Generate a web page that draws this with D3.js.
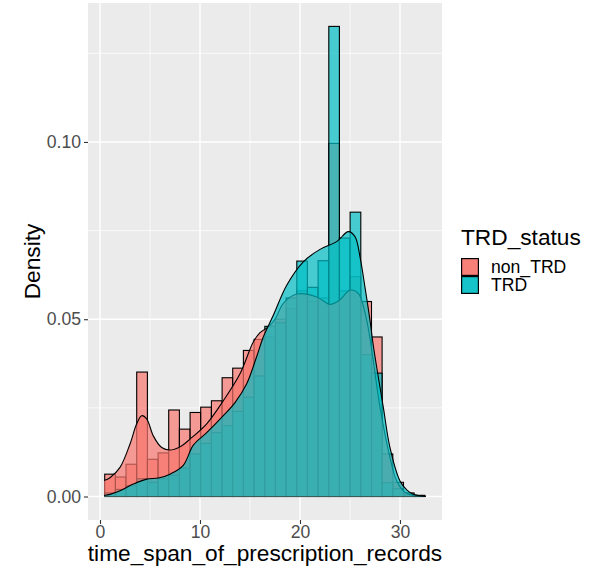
<!DOCTYPE html>
<html>
<head>
<meta charset="utf-8">
<script src="https://cdn.jsdelivr.net/npm/d3@7"></script>
<style>
  body { margin: 0; background: #ffffff; }
  text { font-family: "Liberation Sans", Arial, sans-serif; }
</style>
</head>
<body>
<div class="chart-wrapper"></div>
<script>

const groups = ["non_TRD", "TRD"];
const colours = ["#F8766D", "#00BFC4"];

// histogram bin edges (31 edges -> 30 bins)
const binEdges = [0.47, 1.54, 2.60, 3.67, 4.74, 5.81, 6.87, 7.94, 9.01, 10.07,
  11.14, 12.21, 13.27, 14.34, 15.41, 16.48, 17.54, 18.61, 19.68, 20.74,
  21.81, 22.88, 23.94, 25.01, 26.08, 27.15, 28.21, 29.28, 30.35, 31.41, 32.48];

const histNonTRD = [0.0063, 0.0055, 0.0091, 0.0351, 0.0105, 0.0123, 0.0244, 0.0190, 0.0237, 0.0252,
  0.0270, 0.0335, 0.0362, 0.0412, 0.0443, 0.0450, 0.0500, 0.0530, 0.0580, 0.0550,
  0.0560, 0.0996, 0.0580, 0.0620, 0.0550, 0.0450, 0.0120, 0.0040, 0.0010, 0.0003];

const histTRD = [0.0010, 0.0020, 0.0030, 0.0050, 0.0040, 0.0050, 0.0060, 0.0080, 0.0120, 0.0150,
  0.0180, 0.0200, 0.0240, 0.0280, 0.0340, 0.0480, 0.0490, 0.0560, 0.0664, 0.0590,
  0.0665, 0.1326, 0.0729, 0.0802, 0.0400, 0.0348, 0.0039, 0.0022, 0.0005, 0.0003];

const densNonTRD_x = [0.41, 1, 2, 3, 3.67, 4.17, 4.67, 5.33, 6.17, 7, 8, 9, 10.67, 12.33, 14, 15.33, 16, 16.8,
  17.5, 18.33, 19.67, 21.67, 23, 24, 25, 25.83, 26.67, 28, 29, 29.67, 30.5, 31.3, 32.2];
const densNonTRD_y = [0.0045, 0.0053, 0.0082, 0.0148, 0.0205, 0.0228, 0.0219, 0.0171, 0.0138, 0.0131, 0.0140, 0.0162,
  0.0205, 0.0270, 0.0346, 0.0436, 0.0462, 0.0478, 0.0500, 0.0545, 0.0571, 0.0563, 0.0542, 0.0555, 0.0582,
  0.0573, 0.0497, 0.0252, 0.0110, 0.0044, 0.0012, 0.0003, 0.0001];

const densTRD_x = [0.41, 1, 2, 3.33, 4.67, 5.83, 7, 8.33, 9.33, 10.67, 12.33, 13.5, 14.67, 15.67, 16.33, 17.33,
  18.67, 20.33, 22, 23.67, 24.83, 25.5, 26, 26.5, 27, 27.33, 28.33, 29, 30, 30.7, 31.33, 32, 32.59];
const densTRD_y = [0.0003, 0.0006, 0.0016, 0.0035, 0.0049, 0.0052, 0.0063, 0.0088, 0.0145, 0.0180, 0.0228, 0.0265,
  0.0318, 0.0395, 0.0450, 0.0511, 0.0596, 0.0662, 0.0697, 0.0719, 0.0747, 0.0733, 0.0676, 0.0590, 0.0497,
  0.0426, 0.0252, 0.0138, 0.0044, 0.0018, 0.0006, 0.0002, 0.0000];

const xTicks = [0, 10, 20, 30];
const xMinor = [5, 15, 25];
const yTicks = [0, 0.05, 0.10];
const yMinor = [0.025, 0.075, 0.125];

let width = 590;
let height = 571;

let panel = {left: 88, right: 442, top: 3, bottom: 520};

const svg = d3.select('.chart-wrapper')
.append('svg')
.attr("width", width)
.attr("height", height);

let x = d3.scaleLinear()
.domain([-1.2, 34.2])
.range([panel.left, panel.right]);

let y = d3.scaleLinear()
.domain([-0.00663, 0.1392])
.range([panel.bottom, panel.top]);

// panel background + grid
svg.append("rect")
.attr("x", panel.left)
.attr("y", panel.top)
.attr("width", panel.right - panel.left)
.attr("height", panel.bottom - panel.top)
.attr("fill", "#EBEBEB");

svg.append("g")
.selectAll("line.vminor")
.data(xMinor)
.enter()
.append("line")
.attr("x1", d => x(d)).attr("x2", d => x(d))
.attr("y1", panel.top).attr("y2", panel.bottom)
.attr("stroke", "#ffffff").attr("stroke-width", 0.7);

svg.append("g")
.selectAll("line.hminor")
.data(yMinor)
.enter()
.append("line")
.attr("x1", panel.left).attr("x2", panel.right)
.attr("y1", d => y(d)).attr("y2", d => y(d))
.attr("stroke", "#ffffff").attr("stroke-width", 0.7);

svg.append("g")
.selectAll("line.vmajor")
.data(xTicks)
.enter()
.append("line")
.attr("x1", d => x(d)).attr("x2", d => x(d))
.attr("y1", panel.top).attr("y2", panel.bottom)
.attr("stroke", "#ffffff").attr("stroke-width", 1.4);

svg.append("g")
.selectAll("line.hmajor")
.data(yTicks)
.enter()
.append("line")
.attr("x1", panel.left).attr("x2", panel.right)
.attr("y1", d => y(d)).attr("y2", d => y(d))
.attr("stroke", "#ffffff").attr("stroke-width", 1.4);

// histogram bars, non_TRD first then TRD on top
let barData = [];
[histNonTRD, histTRD].forEach((vals, g) => {
  vals.forEach((v, i) => {
    barData.push({group: g, x0: binEdges[i], x1: binEdges[i + 1], value: v});
  });
});

svg.append("g")
.selectAll("rect")
.data(barData)
.enter()
.append("rect")
.attr("x", d => x(d.x0))
.attr("y", d => y(d.value))
.attr("width", d => x(d.x1) - x(d.x0))
.attr("height", d => y(0) - y(d.value))
.attr("fill", d => colours[d.group])
.attr("fill-opacity", 0.7)
.attr("stroke", "#000000")
.attr("stroke-width", 1.1);

// density curves
let densities = [
  d3.zip(densNonTRD_x, densNonTRD_y),
  d3.zip(densTRD_x, densTRD_y)
];

let area = d3.area()
.x(d => x(d[0]))
.y0(y(0))
.y1(d => y(d[1]))
.curve(d3.curveCatmullRom.alpha(0.5));

let line = d3.line()
.x(d => x(d[0]))
.y(d => y(d[1]))
.curve(d3.curveCatmullRom.alpha(0.5));

densities.forEach((pts, g) => {
  let dg = svg.append("g");
  dg.append("path")
  .datum(pts)
  .attr("d", area)
  .attr("fill", colours[g])
  .attr("fill-opacity", 0.7);
  dg.append("path")
  .datum(pts)
  .attr("d", line)
  .attr("fill", "none")
  .attr("stroke", "#000000")
  .attr("stroke-width", 1.1);
});

// axes
let xAxis = svg.append("g")
.attr("transform", `translate(0,${panel.bottom})`)
.call(d3.axisBottom(x).tickValues(xTicks).tickSize(4).tickPadding(2).tickFormat(d3.format("d")));

let yAxis = svg.append("g")
.attr("transform", `translate(${panel.left},0)`)
.call(d3.axisLeft(y).tickValues(yTicks).tickSize(4).tickPadding(3).tickFormat(d3.format(".2f")));

[xAxis, yAxis].forEach(a => {
  a.select(".domain").remove();
  a.selectAll(".tick line").attr("stroke", "#333333").attr("stroke-width", 1.1);
  a.selectAll(".tick text")
  .attr("fill", "#4D4D4D")
  .style("font-size", "17.6px")
  .style("font-family", "'Liberation Sans', Arial, sans-serif");
});

svg.append("text")
.attr("x", (panel.left + panel.right) / 2)
.attr("y", 561)
.attr("text-anchor", "middle")
.style("font-size", "22.7px")
.attr("fill", "#000000")
.text("time_span_of_prescription_records");

svg.append("text")
.attr("transform", `translate(40,${(panel.top + panel.bottom) / 2}) rotate(-90)`)
.attr("text-anchor", "middle")
.style("font-size", "22.7px")
.attr("fill", "#000000")
.text("Density");

// legend
let legend = svg.append("g")
.attr("transform", "translate(461,0)");

legend.append("text")
.attr("x", 0)
.attr("y", 245)
.style("font-size", "22.7px")
.attr("fill", "#000000")
.text("TRD_status");

let keySize = 18;

groups.forEach((gName, g) => {
  let ky = 258 + g * keySize;
  legend.append("rect")
  .attr("x", 0).attr("y", ky)
  .attr("width", keySize).attr("height", keySize)
  .attr("fill", "#EBEBEB");
  for (let k = 0; k < 2; k++) {
    legend.append("rect")
    .attr("x", 0.6).attr("y", ky + 0.6)
    .attr("width", keySize - 1.2).attr("height", keySize - 1.2)
    .attr("fill", colours[g])
    .attr("fill-opacity", 0.7)
    .attr("stroke", "#000000")
    .attr("stroke-width", 1.1);
  }
  legend.append("text")
  .attr("x", 30)
  .attr("y", ky + keySize / 2 + 6)
  .style("font-size", "17.6px")
  .attr("fill", "#000000")
  .text(gName);
});

</script>
</body>
</html>
